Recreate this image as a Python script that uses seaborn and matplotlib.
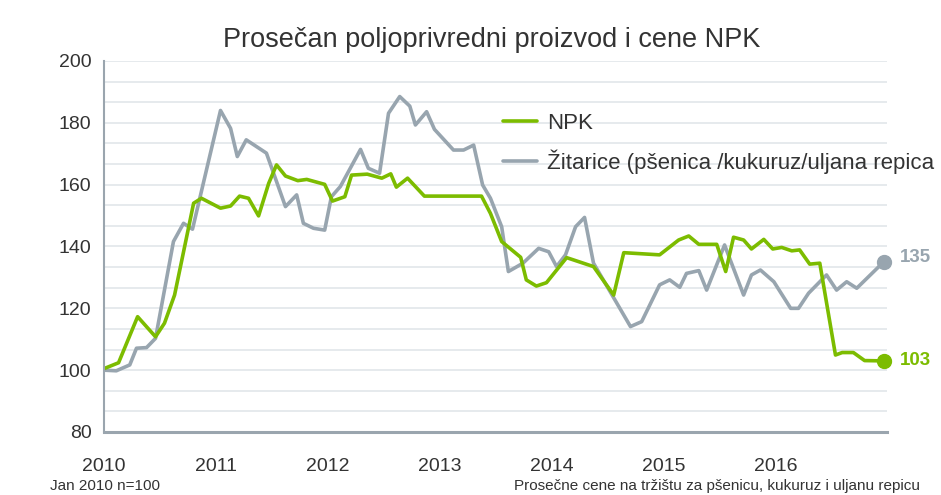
import numpy as np
import matplotlib
matplotlib.use("Agg")
import matplotlib.pyplot as plt
import seaborn as sns

# Data, x in decimal years
npk_x = [2010.00, 2010.13, 2010.30, 2010.46, 2010.54, 2010.63, 2010.72, 2010.80, 2010.87,
         2011.04, 2011.13, 2011.21, 2011.29, 2011.38, 2011.47, 2011.54, 2011.62, 2011.73,
         2011.81, 2011.97, 2012.04, 2012.15, 2012.21, 2012.35, 2012.48, 2012.56, 2012.61,
         2012.71, 2012.86, 2013.37, 2013.45, 2013.55, 2013.72, 2013.77, 2013.86, 2013.95,
         2014.13, 2014.37, 2014.55, 2014.64, 2014.96, 2015.13, 2015.22, 2015.31, 2015.47,
         2015.55, 2015.62, 2015.71, 2015.78, 2015.89, 2015.97, 2016.05, 2016.14, 2016.21,
         2016.30, 2016.39, 2016.53, 2016.59, 2016.69, 2016.79, 2016.96]
npk_y = [100.5, 102.4, 117.3, 110.8, 115.2, 124.3, 140.0, 154.0, 155.6,
         152.4, 153.1, 156.3, 155.6, 149.9, 160.4, 166.4, 162.8, 161.3,
         161.7, 160.1, 154.7, 156.1, 163.1, 163.4, 162.1, 163.5, 159.2,
         162.1, 156.3, 156.3, 150.7, 141.6, 136.5, 129.2, 127.2, 128.3,
         136.4, 133.5, 124.3, 138.0, 137.3, 142.1, 143.4, 140.7, 140.7,
         131.9, 143.0, 142.1, 139.2, 142.3, 139.2, 139.7, 138.6, 138.9,
         134.3, 134.6, 104.9, 105.7, 105.7, 103.1, 103]

grain_x = [2010.00, 2010.11, 2010.23, 2010.29, 2010.38, 2010.46, 2010.62, 2010.71, 2010.79,
           2011.04, 2011.13, 2011.19, 2011.27, 2011.45, 2011.62, 2011.72, 2011.78, 2011.87,
           2011.97, 2012.03, 2012.11, 2012.29, 2012.36, 2012.46, 2012.54, 2012.64, 2012.73,
           2012.78, 2012.88, 2012.95, 2013.12, 2013.21, 2013.30, 2013.38, 2013.45, 2013.55,
           2013.61, 2013.74, 2013.88, 2013.97, 2014.04, 2014.12, 2014.21, 2014.29, 2014.37,
           2014.70, 2014.80, 2014.96, 2015.05, 2015.14, 2015.20, 2015.31, 2015.38, 2015.54,
           2015.71, 2015.78, 2015.86, 2015.98, 2016.13, 2016.20, 2016.29, 2016.45, 2016.54,
           2016.63, 2016.72, 2016.96]
grain_y = [100, 99.8, 101.7, 107.1, 107.3, 110.3, 141.6, 147.5, 145.6,
           184, 178.2, 169.1, 174.5, 170.2, 152.9, 156.7, 147.5, 145.9,
           145.3, 156.1, 159.4, 171.4, 165.3, 163.7, 183.1, 188.5, 185.4,
           179.3, 183.6, 177.9, 171.2, 171.2, 172.8, 159.9, 155.6, 146.4,
           131.9, 134.6, 139.4, 138.3, 133.5, 137.3, 146.4, 149.4, 134.6,
           114.1, 115.7, 127.6, 129.2, 126.8, 131.3, 132.2, 125.9, 140.5,
           124.3, 130.8, 132.4, 128.6, 120.0, 120.0, 124.9, 130.8, 125.9,
           128.6, 126.5, 135]

years = [2010, 2011, 2012, 2013, 2014, 2015, 2016]
y_ticks = [80, 100, 120, 140, 160, 180, 200]

title = "Prosečan poljoprivredni proizvod i cene NPK"
npk_label = "NPK"
grain_label = "Žitarice (pšenica /kukuruz/uljana repica"
note_left = "Jan 2010 n=100"
note_right = "Prosečne cene na tržištu za pšenicu, kukuruz i uljanu repicu"

green = "#7cbc00"
grey = "#98a5af"
axis_grey = "#9aa5ae"
grid_col = "#e1e6ea"
text_col = "#333333"

sns.set_theme(style="white")
plt.rcParams["font.family"] = ["Liberation Sans", "DejaVu Sans"]

fig = plt.figure(figsize=(9.41, 4.95), dpi=100)
ax = fig.add_axes([104 / 941, 1 - 432 / 495, 783 / 941, 371 / 495])

sns.lineplot(x=grain_x, y=grain_y, color=grey, lw=2.6, ax=ax, label=grain_label)
sns.lineplot(x=npk_x, y=npk_y, color=green, lw=2.6, ax=ax, label=npk_label)

# end markers + labels
ax.plot(grain_x[-1], grain_y[-1], "o", color=grey, ms=10, clip_on=False, zorder=5)
ax.plot(npk_x[-1], npk_y[-1], "o", color=green, ms=10, clip_on=False, zorder=5)
ax.annotate(f"{grain_y[-1]:.0f}", (grain_x[-1], grain_y[-1]), xytext=(12, 3),
            textcoords="offset points", va="center", ha="left",
            fontsize=13.5, fontweight="bold", color=grey, annotation_clip=False)
ax.annotate(f"{npk_y[-1]:.0f}", (npk_x[-1], npk_y[-1]), xytext=(12, 0),
            textcoords="offset points", va="center", ha="left",
            fontsize=13.5, fontweight="bold", color=green, annotation_clip=False)

ax.set_xlim(2010, 2016.99)
ax.set_ylim(80, 200)
ax.set_xticks(years)
ax.set_xticklabels([str(y) for y in years])
ax.set_yticks(y_ticks)
ax.set_yticks(np.linspace(80, 200, 19), minor=True)
ax.grid(True, axis="y", which="both", color=grid_col, lw=1.2)
ax.set_axisbelow(True)

for s in ["top", "right"]:
    ax.spines[s].set_visible(False)
ax.spines["left"].set_color(axis_grey)
ax.spines["left"].set_linewidth(1.5)
ax.spines["bottom"].set_color(axis_grey)
ax.spines["bottom"].set_linewidth(2.2)

ax.tick_params(axis="x", direction="out", length=8, width=1.3, color=axis_grey,
               labelsize=14, labelcolor=text_col, pad=11)
ax.tick_params(axis="y", which="both", length=0, labelsize=14, labelcolor=text_col, pad=9)
ax.set_xlabel("")
ax.set_ylabel("")

handles, labels = ax.get_legend_handles_labels()
order = [labels.index(npk_label), labels.index(grain_label)]
ax.legend([handles[i] for i in order], [labels[i] for i in order],
          loc="upper left", bbox_to_anchor=(0.51, 0.86), frameon=False,
          fontsize=16, handlelength=1.5, handletextpad=0.45, labelspacing=0.7,
          borderpad=0, borderaxespad=0, labelcolor=text_col)

fig.text(0.522, 1 - 40 / 495, title, ha="center", va="center", fontsize=19.5, color=text_col)
fig.text(50 / 941, 1 - 486 / 495, note_left, ha="left", va="center", fontsize=11, color=text_col)
fig.text(920 / 941, 1 - 486 / 495, note_right, ha="right", va="center", fontsize=11, color=text_col)

fig.savefig("out.png", dpi=100)
